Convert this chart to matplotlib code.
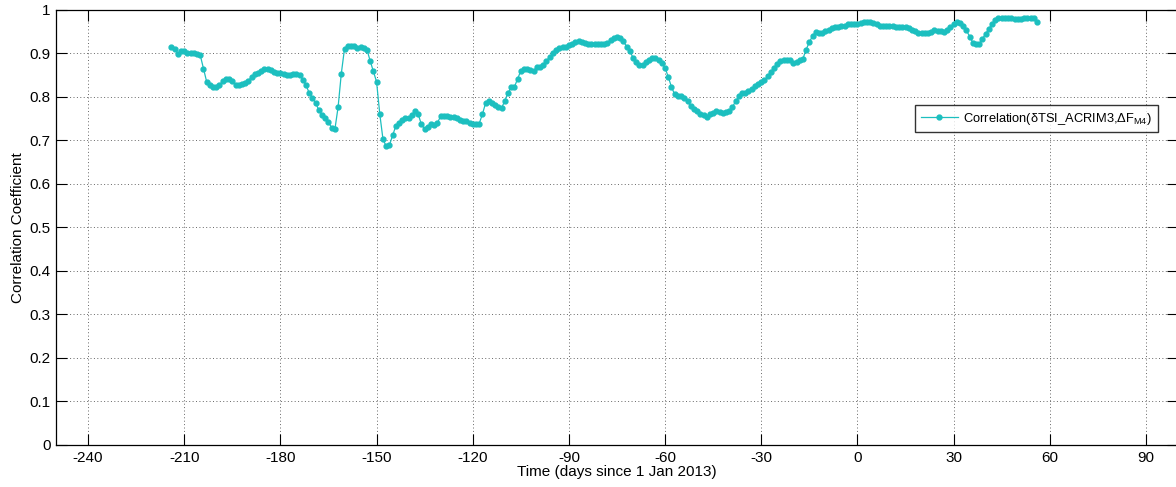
import matplotlib
matplotlib.use("Agg")
import matplotlib.pyplot as plt
import numpy as np

plt.rcParams['font.family'] = ['Liberation Sans', 'DejaVu Sans']
plt.rcParams['mathtext.fontset'] = 'custom'
plt.rcParams['mathtext.rm'] = 'Liberation Sans'
plt.rcParams['mathtext.it'] = 'Liberation Sans'

# daily samples, days since 1 Jan 2013
first_day = -214
correlation = [
    0.915, 0.910, 0.898, 0.904, 0.905, 0.900, 0.900, 0.900, 0.898, 0.895,
    0.864, 0.834, 0.826, 0.822, 0.822, 0.826, 0.836, 0.841, 0.841, 0.836,
    0.826, 0.826, 0.830, 0.831, 0.836, 0.845, 0.851, 0.854, 0.859, 0.864,
    0.864, 0.860, 0.856, 0.854, 0.854, 0.852, 0.850, 0.850, 0.851, 0.851,
    0.849, 0.839, 0.826, 0.808, 0.797, 0.785, 0.769, 0.757, 0.752, 0.742,
    0.728, 0.725, 0.776, 0.853, 0.910, 0.916, 0.917, 0.916, 0.912, 0.914,
    0.912, 0.908, 0.882, 0.858, 0.834, 0.760, 0.702, 0.686, 0.688, 0.711,
    0.732, 0.740, 0.746, 0.750, 0.751, 0.757, 0.766, 0.759, 0.736, 0.725,
    0.731, 0.736, 0.734, 0.740, 0.755, 0.755, 0.755, 0.754, 0.753, 0.750,
    0.746, 0.744, 0.744, 0.740, 0.737, 0.736, 0.738, 0.759, 0.785, 0.790,
    0.785, 0.780, 0.776, 0.774, 0.790, 0.809, 0.821, 0.822, 0.841, 0.859,
    0.863, 0.863, 0.860, 0.858, 0.868, 0.869, 0.873, 0.882, 0.891, 0.900,
    0.906, 0.911, 0.914, 0.914, 0.918, 0.921, 0.925, 0.927, 0.925, 0.923,
    0.921, 0.920, 0.921, 0.920, 0.920, 0.921, 0.923, 0.929, 0.935, 0.937,
    0.934, 0.927, 0.915, 0.905, 0.889, 0.879, 0.873, 0.873, 0.879, 0.885,
    0.889, 0.889, 0.885, 0.878, 0.866, 0.845, 0.822, 0.805, 0.801, 0.801,
    0.797, 0.789, 0.778, 0.771, 0.766, 0.761, 0.757, 0.753, 0.759, 0.763,
    0.767, 0.765, 0.763, 0.765, 0.767, 0.776, 0.789, 0.801, 0.808, 0.809,
    0.812, 0.817, 0.824, 0.830, 0.834, 0.837, 0.847, 0.856, 0.866, 0.876,
    0.882, 0.885, 0.885, 0.883, 0.878, 0.879, 0.883, 0.887, 0.908, 0.925,
    0.939, 0.948, 0.947, 0.946, 0.950, 0.954, 0.958, 0.960, 0.960, 0.962,
    0.963, 0.966, 0.967, 0.967, 0.967, 0.969, 0.971, 0.971, 0.971, 0.969,
    0.966, 0.963, 0.963, 0.962, 0.961, 0.961, 0.960, 0.960, 0.960, 0.960,
    0.958, 0.954, 0.950, 0.947, 0.946, 0.946, 0.946, 0.948, 0.952, 0.950,
    0.950, 0.948, 0.952, 0.960, 0.966, 0.971, 0.969, 0.963, 0.952, 0.938,
    0.924, 0.920, 0.921, 0.933, 0.944, 0.956, 0.967, 0.977, 0.981, 0.981,
    0.981, 0.981, 0.980, 0.979, 0.979, 0.979, 0.980, 0.981, 0.981, 0.981,
    0.971,
]
days = np.arange(first_day, first_day + len(correlation))

x_ticks = list(range(-240, 91, 30))
y_ticks = [0, 0.1, 0.2, 0.3, 0.4, 0.5, 0.6, 0.7, 0.8, 0.9, 1]
y_tick_labels = ['0', '0.1', '0.2', '0.3', '0.4', '0.5', '0.6', '0.7', '0.8', '0.9', '1']
legend_label = 'Correlation(δTSI_ACRIM3,ΔF$_{\\mathrm{M4}}$)'

fig = plt.figure(figsize=(11.76, 4.87), dpi=100)
ax = fig.add_axes([56 / 1176, 42 / 487, 1122 / 1176, 435.5 / 487])

color = '#1cbfbf'
ax.plot(days, correlation, '-', color=color, lw=0.9, marker='o', ms=3.5,
        mec=color, mfc=color, label=legend_label)

ax.set_xlim(-250, 100)
ax.set_ylim(0, 1)
ax.set_xticks(x_ticks)
ax.set_xticklabels([str(t) for t in x_ticks])
ax.set_yticks(y_ticks)
ax.set_yticklabels(y_tick_labels)

ax.grid(True, color='#666666', linestyle=(0, (1, 2.5)), linewidth=0.7)
ax.tick_params(direction='in', length=8, width=0.8, top=True, right=True,
               labelsize=11, pad=4, colors='black')
for s in ax.spines.values():
    s.set_linewidth(0.9)
    s.set_color('black')

ax.set_xlabel('Time (days since 1 Jan 2013)', fontsize=11, labelpad=0)
ax.set_ylabel('Correlation Coefficient', fontsize=11, labelpad=3)

leg = ax.legend(loc='upper right', bbox_to_anchor=(0.982, 0.781), fontsize=9.3,
                frameon=True, fancybox=False, shadow=False, handlelength=2.9,
                borderpad=0.45, handletextpad=0.4, borderaxespad=0)
leg.get_frame().set_edgecolor('black')
leg.get_frame().set_linewidth(1.0)

fig.savefig('out.png', dpi=100)
